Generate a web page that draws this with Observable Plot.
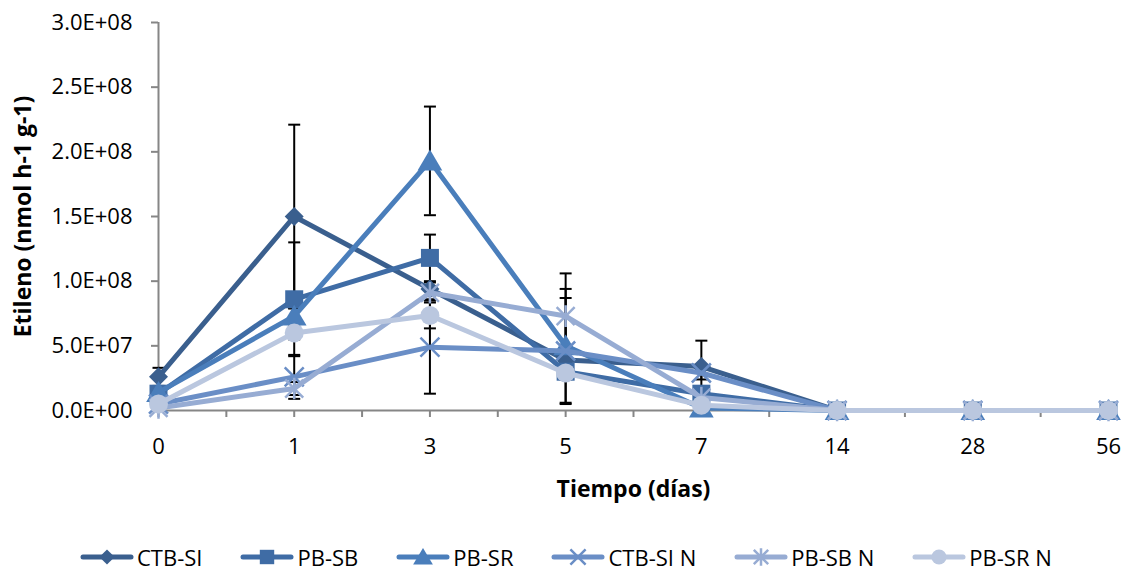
<!DOCTYPE html>
<html>
<head>
<meta charset="utf-8">
<script src="https://cdn.jsdelivr.net/npm/d3@7"></script>
<script src="https://cdn.jsdelivr.net/npm/@observablehq/plot@0.6"></script>
<style>
  html, body { margin: 0; padding: 0; background: #fff; }
  #chart svg { display: block; }
  #legend { display: flex; align-items: center; height: 33px; padding-top: 20px; padding-left: 80px;
            font-family: 'Open Sans', sans-serif; font-size: 22px; color: #000; }
  .item { display: flex; align-items: center; margin-right: 38px; }
  .item svg { display: block; margin-right: 3px; }
</style>
</head>
<body>
<div id="chart"></div>
<div id="legend"></div>
<script>
// ---- data ----
const days = ["0", "1", "3", "5", "7", "14", "28", "56"];
const seriesNames = ["CTB-SI", "PB-SB", "PB-SR", "CTB-SI N", "PB-SB N", "PB-SR N"];

const ctbSI   = [2.6e7, 1.50e8, 9.4e7, 3.9e7, 3.4e7, 0, 0, 0];
const pbSB    = [1.3e7, 8.6e7, 1.18e8, 3.0e7, 1.3e7, 0, 0, 0];
const pbSR    = [1.4e7, 7.3e7, 1.93e8, 5.0e7, 2e6, 0, 0, 0];
const ctbSIN  = [5e6, 2.6e7, 4.9e7, 4.6e7, 2.9e7, 0, 0, 0];
const pbSBN   = [2e6, 1.7e7, 9.1e7, 7.3e7, 1.0e7, 0, 0, 0];
const pbSRN   = [5e6, 6.0e7, 7.35e7, 2.9e7, 4e6, 0, 0, 0];

const errCtbSI  = [7e6, 7.1e7, 5e6, 5e6, 2.0e7, 0, 0, 0];
const errPbSB   = [3e6, 4.4e7, 1.8e7, 5e6, 3e6, 0, 0, 0];
const errPbSR   = [3e6, 6e6, 4.2e7, 4.4e7, 2e6, 0, 0, 0];
const errCtbSIN = [2e6, 1.7e7, 3.6e7, 4.1e7, 5e6, 0, 0, 0];
const errPbSBN  = [2e6, 5e6, 5e6, 3.3e7, 3e6, 0, 0, 0];
const errPbSRN  = [2e6, 5e6, 1.0e7, 5e6, 2e6, 0, 0, 0];

const yTicks = [0, 5e7, 1e8, 1.5e8, 2e8, 2.5e8, 3e8];
const xTitle = "Tiempo (días)";
const yTitle = "Etileno (nmol h-1 g-1)";

// ---- styles ----
const colors = ["#3A5F8E", "#3F6CA5", "#4A7EBB", "#6A8EC6", "#97ACD3", "#BAC7DF"];
const lineSym = (pts) => ({draw(c, s) { const r = Math.sqrt(s / Math.PI); pts(c, r); }});
const symbols = [
  lineSym((c, r) => { c.moveTo(0, -r); c.lineTo(r, 0); c.lineTo(0, r); c.lineTo(-r, 0); c.closePath(); }),
  lineSym((c, r) => { c.moveTo(-r, -r); c.lineTo(r, -r); c.lineTo(r, r); c.lineTo(-r, r); c.closePath(); }),
  lineSym((c, r) => { c.moveTo(0, -r * 1.2); c.lineTo(r * 1.3, r); c.lineTo(-r * 1.3, r); c.closePath(); }),
  lineSym((c, r) => { c.moveTo(-r, -r); c.lineTo(r, r); c.moveTo(r, -r); c.lineTo(-r, r); }),
  lineSym((c, r) => { c.moveTo(-r, -r); c.lineTo(r, r); c.moveTo(r, -r); c.lineTo(-r, r); c.moveTo(0, -r * 1.2); c.lineTo(0, r * 1.2); }),
  lineSym((c, r) => { c.moveTo(r, 0); c.arc(0, 0, r, 0, 2 * Math.PI); c.closePath(); })
];
const filled = [true, true, true, false, false, true];
const sizes = [9.5, 9, 9.5, 9.5, 9, 9.5];
const capSym = lineSym((c, r) => { c.moveTo(-r, 0); c.lineTo(r, 0); });

const values = [ctbSI, pbSB, pbSR, ctbSIN, pbSBN, pbSRN];
const errors = [errCtbSI, errPbSB, errPbSR, errCtbSIN, errPbSBN, errPbSRN];

const rows = [];
const errRows = [];
values.forEach((vals, s) => vals.forEach((v, i) => {
  rows.push({series: s, x: i, y: v});
  const e = errors[s][i];
  if (e > 0) errRows.push({x: i, lo: Math.max(0, v - e), hi: v + e});
}));
const caps = errRows.flatMap(d => [{x: d.x, y: d.lo}, {x: d.x, y: d.hi}]);

const sci = d => {
  const [m, e] = d.toExponential(1).split("e");
  return `${m}E${e[0]}${String(Math.abs(+e)).padStart(2, "0")}`;
};

const seriesMarks = values.flatMap((vals, s) => {
  const data = rows.filter(d => d.series === s);
  return [
    Plot.line(data, {x: "x", y: "y", stroke: colors[s], strokeWidth: 5, strokeLinejoin: "round", strokeLinecap: "round"}),
    Plot.dot(data, {x: "x", y: "y", symbol: symbols[s], r: sizes[s],
      fill: filled[s] ? colors[s] : "none", stroke: filled[s] ? "none" : colors[s], strokeWidth: 2.5})
  ];
});

const halfTicks = d3.range(0, days.length - 0.99, 0.5);

const chart = Plot.plot({
  width: 1128,
  height: 520,
  marginLeft: 158,
  marginRight: 20,
  marginTop: 22,
  marginBottom: 110,
  x: {type: "linear", domain: [0, days.length - 1]},
  y: {domain: [0, 3e8]},
  style: {fontFamily: "'Open Sans', sans-serif", fontSize: "22px", color: "#000", background: "#fff", overflow: "visible"},
  marks: [
    Plot.axisY(yTicks, {tickFormat: sci, tickSize: 7, tickPadding: 19, stroke: "#868686", strokeWidth: 2, label: null}),
    Plot.axisX(halfTicks, {tickFormat: i => Number.isInteger(i) ? days[i] : "", tickSize: 7, tickPadding: 21, stroke: "#868686", strokeWidth: 2, label: null}),
    Plot.ruleY([0], {stroke: "#868686", strokeWidth: 2}),
    Plot.ruleX([0], {stroke: "#868686", strokeWidth: 2}),
    Plot.ruleX(errRows, {x: "x", y1: "lo", y2: "hi", stroke: "#000", strokeWidth: 2}),
    Plot.dot(caps, {x: "x", y: "y", symbol: capSym, r: 6, stroke: "#000", strokeWidth: 2}),
    ...seriesMarks,
    Plot.text([xTitle], {frameAnchor: "bottom", dy: 86, fontWeight: "bold", fontSize: 23}),
    Plot.text([yTitle], {frameAnchor: "left", textAnchor: "middle", dx: -135, rotate: -90, fontWeight: "bold", fontSize: 23})
  ]
});
document.getElementById("chart").appendChild(chart);

// ---- legend ----
const legend = document.getElementById("legend");
seriesNames.forEach((name, s) => {
  const item = document.createElement("div");
  item.className = "item";
  const w = 54, h = 26;
  const svg = d3.create("svg").attr("width", w).attr("height", h);
  svg.append("line").attr("x1", 3).attr("x2", w - 3).attr("y1", h / 2).attr("y2", h / 2)
    .attr("stroke", colors[s]).attr("stroke-width", 5).attr("stroke-linecap", "round");
  const p = d3.path();
  const r = sizes[s] * 0.8;
  symbols[s].draw(p, r * r * Math.PI);
  svg.append("path").attr("d", p.toString()).attr("transform", `translate(${w / 2},${h / 2})`)
    .attr("fill", filled[s] ? colors[s] : "none").attr("stroke", filled[s] ? "none" : colors[s]).attr("stroke-width", 2.5);
  item.appendChild(svg.node());
  const span = document.createElement("span");
  span.textContent = name;
  item.appendChild(span);
  legend.appendChild(item);
});
</script>
</body>
</html>
